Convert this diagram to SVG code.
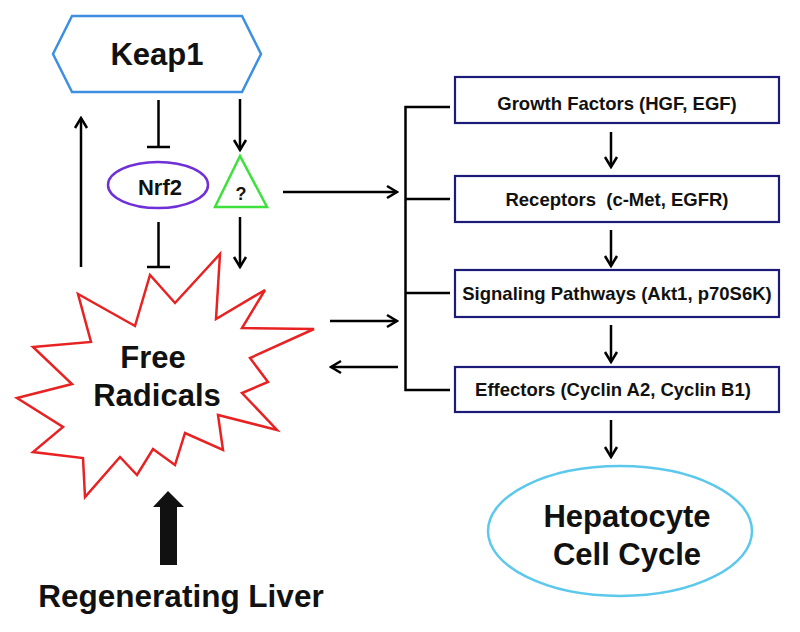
<svg xmlns="http://www.w3.org/2000/svg" width="800" height="632" viewBox="0 0 800 632">
<defs>
<marker id="ah" markerUnits="userSpaceOnUse" viewBox="-12 -8 14 16" refX="0" refY="0" markerWidth="14" markerHeight="16" orient="auto">
<path d="M-10,-6 L0,0 L-10,6" fill="none" stroke="#000" stroke-width="2.5"/>
</marker>
</defs>
<style>
text{font-family:"Liberation Sans",Arial,sans-serif;font-weight:bold;fill:#111;text-anchor:middle}
.big{font-size:31px}
.box{fill:#fff;stroke:#1c1c78;stroke-width:2.2}
.bt{font-size:18.5px}
.c line,.c path{stroke:#000;stroke-width:2.5;fill:none}
.a{marker-end:url(#ah)}
</style>
<rect width="800" height="632" fill="#fff"/>
<g id="keap1">
<polygon points="53,54 72,16 242,16 261,54 242,92 72,92" fill="#fff" stroke="#3d8fe0" stroke-width="2.5"/>
<text class="big" x="157" y="65">Keap1</text>
</g>
<g id="nrf2">
<ellipse cx="158" cy="185" rx="50" ry="23" fill="#fff" stroke="#7030d8" stroke-width="2.5"/>
<text x="160" y="195" font-size="22">Nrf2</text>
</g>
<g id="unknown">
<polygon points="240,156 215,207 267,207" fill="#fff" stroke="#3ee03e" stroke-width="2.5"/>
<text x="241" y="200" font-size="18">?</text>
</g>
<g id="free-radicals">
<polygon points="220,254 216,319 265,290 242,328 314,329 250,358 268,382 242,393 277,430 218,415 223,450 185,433 175,465 153,449 137,475 120,457 85,497 83,458 33,452 63,427 17,398 72,384 33,347 91,342 78,294 135,326 150,275 175,303" fill="#fff" stroke="#e82222" stroke-width="2.5" stroke-linejoin="miter"/>
<text class="big" x="153" y="368">Free</text>
<text class="big" x="157" y="406">Radicals</text>
</g>
<g id="regenerating-liver">
<polygon points="160,565 177,565 177,507 184,507 168,491 153,507 160,507" fill="#111"/>
<text x="181" y="607" font-size="31.5">Regenerating Liver</text>
</g>
<g id="growth-factors">
<rect class="box" x="455" y="77" width="324" height="46"/>
<text class="bt" x="617" y="110">Growth Factors (HGF, EGF)</text>
</g>
<g id="receptors">
<rect class="box" x="455" y="176" width="324" height="46"/>
<text class="bt" x="617" y="206" xml:space="preserve">Receptors  (c-Met, EGFR)</text>
</g>
<g id="signaling">
<rect class="box" x="455" y="270" width="324" height="47"/>
<text class="bt" x="617" y="300">Signaling Pathways (Akt1, p70S6K)</text>
</g>
<g id="effectors">
<rect class="box" x="455" y="367" width="324" height="45"/>
<text class="bt" x="613" y="396">Effectors (Cyclin A2, Cyclin B1)</text>
</g>
<g id="hepatocyte">
<ellipse cx="620" cy="531" rx="132" ry="65" fill="#fff" stroke="#5cc8ec" stroke-width="2.5"/>
<text class="big" x="627" y="527">Hepatocyte</text>
<text class="big" x="627" y="565">Cell Cycle</text>
</g>
<g id="connectors" class="c">
<line class="a" x1="81" y1="267" x2="81" y2="118"/>
<line x1="158.5" y1="100" x2="158.5" y2="147"/>
<line x1="147" y1="147" x2="170" y2="147"/>
<line x1="158.5" y1="222" x2="158.5" y2="267"/>
<line x1="147" y1="267" x2="170" y2="267"/>
<line class="a" x1="240" y1="99" x2="240" y2="150"/>
<line class="a" x1="240" y1="217" x2="240" y2="267"/>
<line class="a" x1="283" y1="192" x2="397" y2="192"/>
<line class="a" x1="330" y1="321" x2="397" y2="321"/>
<line class="a" x1="398" y1="367" x2="331" y2="367"/>
<path d="M450,107 H405.5 V390 H450 M405.5,199 H450 M405.5,293 H450"/>
<line class="a" x1="611" y1="132" x2="611" y2="167"/>
<line class="a" x1="611" y1="230" x2="611" y2="266"/>
<line class="a" x1="611" y1="325" x2="611" y2="362"/>
<line class="a" x1="611" y1="420" x2="611" y2="457"/>
</g>
</svg>
